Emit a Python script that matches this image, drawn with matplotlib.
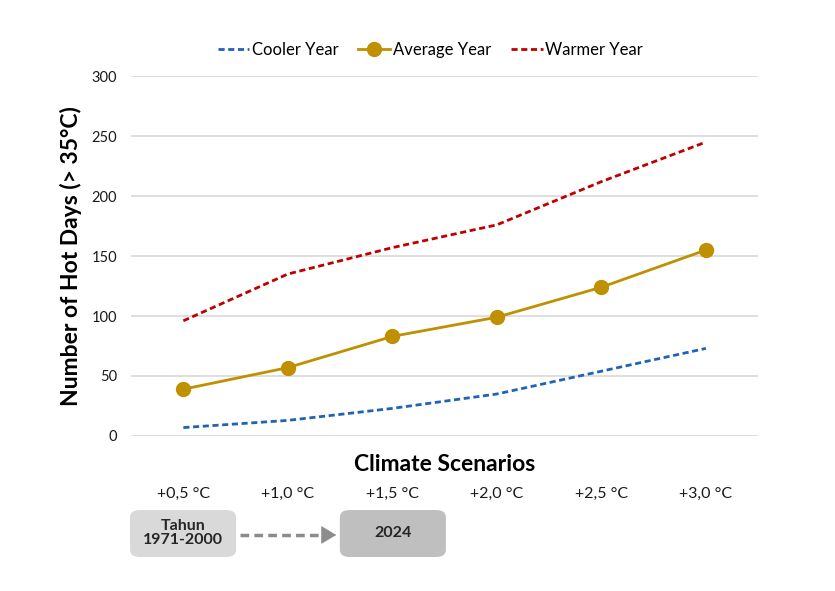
import matplotlib
matplotlib.use('Agg')
import matplotlib.pyplot as plt
from matplotlib.patches import FancyBboxPatch, FancyArrowPatch
from matplotlib.lines import Line2D

plt.rcParams['font.family'] = ['Lato', 'DejaVu Sans']

# values
scenarios = ['+0,5 °C', '+1,0 °C', '+1,5 °C', '+2,0 °C', '+2,5 °C', '+3,0 °C']
cooler = [7, 13, 23, 35, 54, 73]
average = [39, 57, 83, 99, 124, 155]
warmer = [96, 135, 157, 176, 212, 245]
y_ticks = [0, 50, 100, 150, 200, 250, 300]

fig = plt.figure(figsize=(8.35, 5.91), dpi=100)
ax = fig.add_axes([0.157, 0.2623, 0.751, 0.609])

x = list(range(len(scenarios)))
ax.plot(x, cooler, color='#1f63b5', lw=2, dashes=(2.2, 1.3), label='Cooler Year')
ax.plot(x, average, color='#bf9000', lw=2, marker='o', markersize=10, label='Average Year')
ax.plot(x, warmer, color='#c00000', lw=2, dashes=(2.2, 1.3), label='Warmer Year')

ax.set_xlim(-0.5, len(scenarios) - 0.5)
ax.set_ylim(0, 300)
ax.set_yticks(y_ticks)
ax.set_xticks(x)
ax.set_xticklabels(scenarios, fontsize=11.5, color='#1a1a1a')
ax.tick_params(axis='x', length=0, pad=37)
ax.tick_params(axis='y', length=0, pad=10, labelsize=10.5, labelcolor='#1a1a1a')
ax.grid(axis='y', color='#d9d9d9', lw=1.2)
ax.set_axisbelow(True)
for s in ax.spines.values():
    s.set_visible(False)

ax.set_ylabel('Number of Hot Days (> 35°C)', fontsize=16.5, fontweight='bold', labelpad=7)
ax.text(0.5, -0.08, 'Climate Scenarios', transform=ax.transAxes, ha='center', va='center',
        fontsize=16.5, fontweight='bold')

ax.legend(loc='center', bbox_to_anchor=(0.477, 1.072), ncol=3, frameon=False, fontsize=12,
          handlelength=1.9, handletextpad=0.15, columnspacing=1.2)

# period boxes under the axis
boxes = [('Tahun\n1971-2000', 0.1557, '#d9d9d9'), ('2024', 0.407, '#bfbfbf')]
for label, bx, col in boxes:
    p = FancyBboxPatch((bx, 0.0575), 0.127, 0.0795, boxstyle='round,pad=0,rounding_size=0.012',
                       transform=fig.transFigure, facecolor=col, edgecolor='none')
    fig.add_artist(p)
    fig.text(bx + 0.0635, 0.0575 + 0.0398, label, ha='center', va='center', fontsize=11.5,
             fontweight='bold', color='#262626', linespacing=1.0)

# dashed arrow between the boxes
fig.add_artist(Line2D([0.287, 0.392], [0.0948, 0.0948], transform=fig.transFigure,
                      color='#8c8c8c', lw=2.5, dashes=(2.5, 1.5)))
arr = FancyArrowPatch((0.385, 0.0948), (0.406, 0.0948), transform=fig.transFigure,
                      arrowstyle='-|>,head_length=10,head_width=6', color='#8c8c8c', lw=0.5)
fig.add_artist(arr)

fig.savefig('out.png', dpi=100)
